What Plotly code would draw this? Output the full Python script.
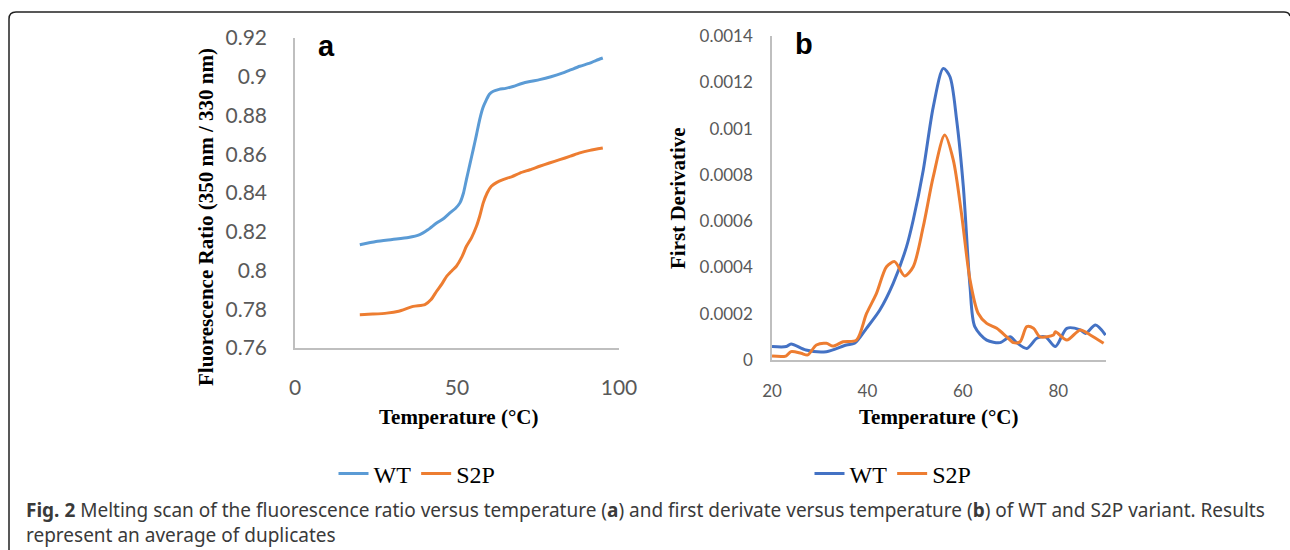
import plotly.graph_objects as go

# panel a: fluorescence ratio vs temperature
wt_a_temp = [20, 25, 30, 35, 38.5, 41, 43.7, 46, 47.8, 49.5, 50.9, 52, 52.9, 54, 55, 56, 57, 58,
             59.1, 60, 61.2, 63, 65, 67.3, 70, 72.5, 75.5, 79, 82.7, 85, 87.9, 91, 93, 95]
wt_a_ratio = [0.8133, 0.815, 0.816, 0.817, 0.8185, 0.821, 0.8245, 0.827, 0.8297, 0.832, 0.8349,
              0.840, 0.8469, 0.855, 0.8624, 0.870, 0.8779, 0.884, 0.8882, 0.891, 0.8925, 0.8935,
              0.894, 0.895, 0.8965, 0.8975, 0.8985, 0.900, 0.902, 0.9035, 0.9054, 0.907, 0.9085, 0.9097]
s2p_a_temp = [20, 24, 28.3, 32, 36.5, 40.1, 42, 43.7, 45.3, 46.8, 48.5, 49.8, 51.5, 52.9, 54.5, 56,
              57, 58.1, 59.3, 60.6, 62.3, 64.2, 67, 69.4, 72.5, 75.5, 78.5, 81.7, 85, 87.9, 91, 95]
s2p_a_ratio = [0.7772, 0.7775, 0.778, 0.779, 0.7815, 0.7824, 0.785, 0.7893, 0.793, 0.797, 0.800,
               0.8022, 0.807, 0.8125, 0.817, 0.8228, 0.828, 0.8349, 0.840, 0.8435, 0.8455, 0.8469,
               0.8485, 0.8503, 0.852, 0.8538, 0.8555, 0.8572, 0.859, 0.8607, 0.862, 0.8632]

# panel b: first derivative vs temperature
wt_b_temp = [20, 23, 24, 27.1, 31.4, 35.6, 37.3, 39.8, 42.6, 45.4, 48.2, 49.6, 51.7, 53.8, 55.9,
             57.3, 58.7, 60.1, 61.5, 62.5, 65, 67.8, 69.9, 71.3, 73.4, 75.5, 77.3, 79.4, 81.8,
             84.6, 85.7, 87.8, 89.9]
wt_b_deriv = [5.8e-5, 5.8e-5, 6.9e-5, 4.3e-5, 3.6e-5, 6.5e-5, 7.2e-5, 1.37e-4, 2.16e-4, 3.31e-4,
              4.9e-4, 6.05e-4, 8.2e-4, 1.094e-3, 1.26e-3, 1.224e-3, 1.037e-3, 7.49e-4, 3.17e-4,
              1.44e-4, 8.6e-5, 7.5e-5, 1.0e-4, 7.5e-5, 5.0e-5, 9.4e-5, 1.0e-4, 5.8e-5, 1.37e-4,
              1.3e-4, 1.15e-4, 1.51e-4, 1.08e-4]
s2p_b_temp = [20, 22.9, 24, 26.1, 27.5, 29.3, 31.4, 32.8, 34.9, 37.7, 39.8, 41.9, 44, 45.7, 47.8,
              49.6, 51.7, 53.8, 56.2, 58, 59.7, 61.5, 63.2, 65, 67.1, 69.2, 70.6, 72, 73.4, 74.8,
              76.2, 79, 79.4, 81.8, 84.6, 86.7, 89.5]
s2p_b_deriv = [1.7e-5, 1.7e-5, 3.6e-5, 2.9e-5, 2.2e-5, 6.5e-5, 7.2e-5, 6.0e-5, 7.9e-5, 8.6e-5,
               2.0e-4, 2.88e-4, 4.03e-4, 4.25e-4, 3.63e-4, 4.03e-4, 5.76e-4, 7.92e-4, 9.72e-4,
               8.64e-4, 6.34e-4, 3.46e-4, 2.02e-4, 1.58e-4, 1.37e-4, 1.0e-4, 7.5e-5, 7.9e-5,
               1.44e-4, 1.37e-4, 1.0e-4, 1.08e-4, 1.22e-4, 8.6e-5, 1.3e-4, 1.08e-4, 7.2e-5]

a_yticks = [0.76, 0.78, 0.80, 0.82, 0.84, 0.86, 0.88, 0.90, 0.92]
a_yticktext = ["0.76", "0.78", "0.8", "0.82", "0.84", "0.86", "0.88", "0.9", "0.92"]
a_xticks = [0, 50, 100]
b_yticks = [0, 0.0002, 0.0004, 0.0006, 0.0008, 0.001, 0.0012, 0.0014]
b_yticktext = ["0", "0.0002", "0.0004", "0.0006", "0.0008", "0.001", "0.0012", "0.0014"]
b_xticks = [20, 40, 60, 80]

caption = ("<b>Fig. 2</b> Melting scan of the fluorescence ratio versus temperature (<b>a</b>) and "
           "first derivate versus temperature (<b>b</b>) of WT and S2P variant. Results<br>"
           "represent an average of duplicates")

W, H = 1290, 550
tickfont = "Lato, Calibri, sans-serif"
serif = "Liberation Serif, Times New Roman, serif"
axgray = "#BFBFBF"

fig = go.Figure()
fig.add_trace(go.Scatter(x=wt_a_temp, y=wt_a_ratio, mode="lines", name="WT",
                         line=dict(color="#5B9BD5", width=3, shape="spline", smoothing=0.6),
                         xaxis="x", yaxis="y", legend="legend"))
fig.add_trace(go.Scatter(x=s2p_a_temp, y=s2p_a_ratio, mode="lines", name="S2P",
                         line=dict(color="#ED7D31", width=3, shape="spline", smoothing=0.6),
                         xaxis="x", yaxis="y", legend="legend"))
fig.add_trace(go.Scatter(x=wt_b_temp, y=wt_b_deriv, mode="lines", name="WT",
                         line=dict(color="#4472C4", width=3, shape="spline", smoothing=0.8),
                         xaxis="x2", yaxis="y2", legend="legend2"))
fig.add_trace(go.Scatter(x=s2p_b_temp, y=s2p_b_deriv, mode="lines", name="S2P",
                         line=dict(color="#ED7D31", width=3, shape="spline", smoothing=0.8),
                         xaxis="x2", yaxis="y2", legend="legend2"))

common = dict(showgrid=False, zeroline=False, showline=True, linecolor=axgray, linewidth=1.5,
              ticks="", automargin=False)

fig.update_layout(
    width=W, height=H,
    margin=dict(l=0, r=0, t=0, b=0),
    paper_bgcolor="white", plot_bgcolor="white",
    xaxis=dict(domain=[295 / W, 619 / W], range=[0, 100], tickvals=a_xticks, anchor="y",
               tickfont=dict(family=tickfont, size=21, color="#595959"), ticklabelstandoff=20, **common),
    yaxis=dict(domain=[1 - 348 / H, 1 - 38 / H], range=[0.76, 0.92], tickvals=a_yticks,
               ticktext=a_yticktext, anchor="x",
               tickfont=dict(family=tickfont, size=21, color="#595959"), ticklabelstandoff=22, **common),
    xaxis2=dict(domain=[772 / W, 1106 / W], range=[20, 90], tickvals=b_xticks, anchor="y2",
                tickfont=dict(family=tickfont, size=17, color="#595959"), ticklabelstandoff=15, **common),
    yaxis2=dict(domain=[1 - 360 / H, 1 - 36 / H], range=[0, 0.0014], tickvals=b_yticks,
                ticktext=b_yticktext, anchor="x2",
                tickfont=dict(family=tickfont, size=17, color="#595959"), ticklabelstandoff=14, **common),
    legend=dict(orientation="h", x=417 / W, y=1 - 474 / H, xanchor="center", yanchor="middle",
                font=dict(family=serif, size=24, color="black"), bgcolor="rgba(0,0,0,0)"),
    legend2=dict(orientation="h", x=893 / W, y=1 - 474 / H, xanchor="center", yanchor="middle",
                 font=dict(family=serif, size=24, color="black"), bgcolor="rgba(0,0,0,0)"),
    showlegend=True,
)

ann = [
    dict(text="<b>a</b>", x=326 / W, y=1 - 46 / H, font=dict(family="Liberation Sans, Arial", size=29, color="black")),
    dict(text="<b>b</b>", x=804 / W, y=1 - 44 / H, font=dict(family="Liberation Sans, Arial", size=29, color="black")),
    dict(text="<b>Temperature (°C)</b>", x=458 / W, y=1 - 417 / H, font=dict(family=serif, size=21, color="black")),
    dict(text="<b>Temperature (°C)</b>", x=938 / W, y=1 - 417 / H, font=dict(family=serif, size=21, color="black")),
    dict(text="<b>Fluorescence Ratio (350 nm / 330 nm)</b>", x=206 / W, y=1 - 217 / H, textangle=-90,
         font=dict(family=serif, size=21, color="black")),
    dict(text="<b>First Derivative</b>", x=678 / W, y=1 - 198 / H, textangle=-90,
         font=dict(family=serif, size=21, color="black")),
]
for a in ann:
    fig.add_annotation(xref="paper", yref="paper", showarrow=False, xanchor="center", yanchor="middle", **a)

fig.add_annotation(text=caption, xref="paper", yref="paper", x=24 / W, y=1 - 522 / H,
                   xanchor="left", yanchor="middle", align="left", showarrow=False,
                   font=dict(family="Noto Sans, sans-serif", size=19, color="#3a3a3a"))

# rounded frame around the figure (bottom edge runs off the page)
fig.add_shape(type="path", xref="paper", yref="paper", line=dict(color="#222222", width=1.5),
              path=f"M {9 / W},{1 - 600 / H} L {9 / W},{1 - 19 / H} Q {9 / W},{1 - 12 / H} {16 / W},{1 - 12 / H} "
                   f"L {1284 / W},{1 - 12 / H} Q {1289 / W},{1 - 12 / H} {1290 / W},{1 - 16 / H}")

fig.write_html("out.html", config={"displayModeBar": False},
               post_script="document.body.style.margin='0';")
